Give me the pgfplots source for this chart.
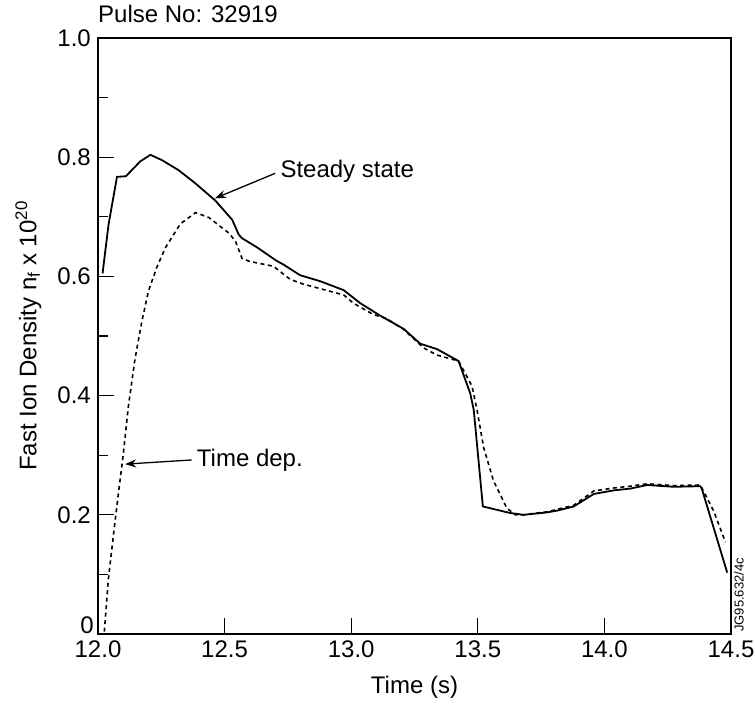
\documentclass[border=0pt]{standalone}
\usepackage{pgfplots}
\pgfplotsset{compat=1.18}
\usepackage{fontspec}
\setmainfont{Liberation Sans}
\usetikzlibrary{calc,arrows.meta}
\begin{document}
\begin{tikzpicture}
\fontsize{24}{28}\selectfont
\begin{axis}[
  scale only axis,
  width=633pt, height=596pt,
  xmin=12, xmax=14.5, ymin=0, ymax=1,
  axis line style={line width=1.3pt},
  xtick={12,12.5,13,13.5,14,14.5},
  xticklabels={12.0,12.5,13.0,13.5,14.0,14.5},
  ytick={0,0.2,0.4,0.6,0.8,1.0},
  yticklabels={,0.2,0.4,0.6,0.8,1.0},
  minor ytick={0.1,0.3,0.5,0.7,0.9},
  xtick pos=bottom, ytick pos=left,
  tick align=inside,
  major tick length=16pt, minor tick length=10pt,
  tick style={line width=1.2pt, black},
  ticklabel style={font=\fontsize{24}{28}\selectfont},
  xticklabel style={yshift=1pt},
  yticklabel style={xshift=1pt},
  xlabel={Time (s)},
  ylabel={Fast Ion Density n\textsubscript{f} x 10\textsuperscript{20}},
  label style={font=\fontsize{24}{28}\selectfont},
  xlabel style={yshift=-2pt},
  ylabel style={yshift=0pt},
  clip=false,
]
\addplot[black, line width=1.8pt] coordinates {
(12.018,0.605) (12.042,0.688) (12.075,0.767) (12.11,0.768) (12.167,0.793)
(12.207,0.804) (12.253,0.795) (12.319,0.778) (12.385,0.756) (12.464,0.727)
(12.53,0.695) (12.556,0.670) (12.569,0.664) (12.627,0.649) (12.706,0.626)
(12.732,0.620) (12.798,0.602) (12.877,0.592) (12.970,0.577) (13.036,0.555)
(13.115,0.534) (13.207,0.512) (13.273,0.487) (13.339,0.478) (13.424,0.458)
(13.470,0.404) (13.484,0.376) (13.520,0.214) (13.628,0.203) (13.681,0.200)
(13.773,0.204) (13.813,0.207) (13.879,0.214) (13.958,0.235) (14.037,0.241)
(14.103,0.244) (14.169,0.250) (14.274,0.247) (14.379,0.248) (14.386,0.242)
(14.485,0.103)
};
\addplot[black, line width=1.6pt, dash pattern=on 4pt off 3.5pt] coordinates {
(12.025,0.004) (12.041,0.092) (12.061,0.166) (12.080,0.234) (12.100,0.302)
(12.120,0.382) (12.146,0.461) (12.173,0.524) (12.199,0.575) (12.232,0.615)
(12.266,0.648) (12.325,0.688) (12.385,0.707) (12.437,0.699) (12.516,0.673)
(12.543,0.659) (12.569,0.630) (12.60,0.625) (12.693,0.617) (12.759,0.595)
(12.811,0.587) (12.917,0.575) (12.970,0.569) (13.009,0.555) (13.088,0.536)
(13.141,0.529) (13.207,0.511) (13.286,0.480) (13.339,0.468) (13.424,0.458)
(13.477,0.416) (13.497,0.376) (13.523,0.313) (13.562,0.257) (13.615,0.211)
(13.648,0.200) (13.681,0.200) (13.773,0.205) (13.879,0.216) (13.958,0.240)
(14.037,0.245) (14.103,0.248) (14.169,0.252) (14.274,0.249) (14.379,0.250)
(14.432,0.206) (14.478,0.154)
};
\draw[line width=1.3pt, -{Stealth[length=11pt,width=8pt]}] (axis cs:12.70,0.773) -- (axis cs:12.462,0.731);
\node[anchor=west, inner sep=0pt] at (axis cs:12.72,0.777) {Steady state};
\draw[line width=1.3pt, -{Stealth[length=11pt,width=8pt]}] (axis cs:12.37,0.292) -- (axis cs:12.107,0.285);
\node[anchor=west, inner sep=0pt] at (axis cs:12.39,0.292) {Time dep.};
\node[anchor=base west, inner sep=0pt] at ($(rel axis cs:0,1)+(0pt,15pt)$) {Pulse No: 32919};
\node[anchor=south east, inner sep=0pt] at ($(rel axis cs:0,0)+(-4pt,0pt)$) {0};
\node[anchor=north west, rotate=90, inner sep=0pt, font=\fontsize{13}{15}\selectfont] at ($(rel axis cs:1,0)+(3pt,2pt)$) {JG95.632/4c};
\end{axis}
\pgfresetboundingbox
\path ($(current axis.south west)+(-98pt,-79pt)$) rectangle ($(current axis.north east)+(24pt,38pt)$);
\end{tikzpicture}
\end{document}
